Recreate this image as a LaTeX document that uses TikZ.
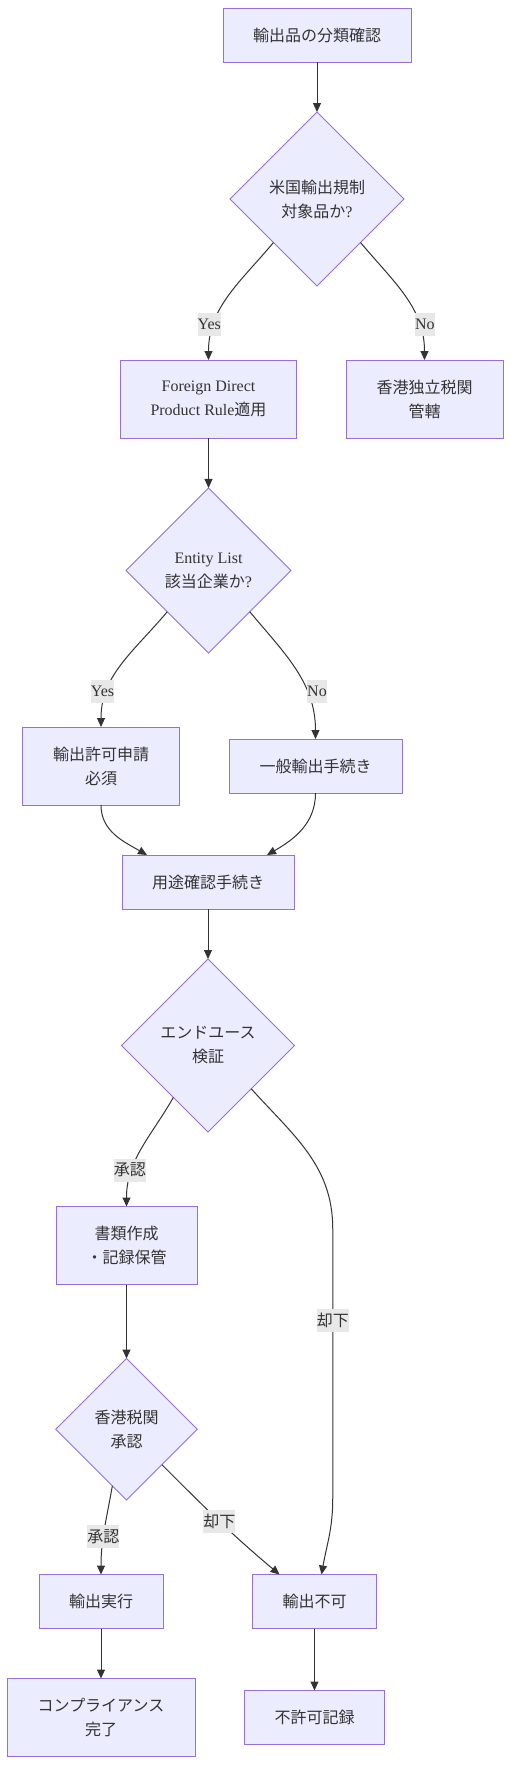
\documentclass[tikz,border=0pt]{standalone}
\usepackage{fontspec}
\setmainfont{Liberation Serif}
\newfontfamily\jpfont{Noto Sans CJK JP}
\newcommand{\jp}[1]{{\jpfont #1}}
\usepackage{xcolor}
\usepackage{tikz}
\usetikzlibrary{shapes.geometric,arrows.meta,positioning,calc}
\definecolor{flowfill}{HTML}{ECECFF}
\definecolor{flowline}{HTML}{9370DB}
\definecolor{wireline}{HTML}{333333}
\definecolor{lblbg}{HTML}{E8E8E8}

\begin{document}
\begin{tikzpicture}[
    font=\fontsize{16pt}{24pt}\selectfont,
    box/.style={draw=flowline,fill=flowfill,line width=1pt,inner sep=0pt,outer sep=0pt,align=center,minimum height=54pt,text=wireline},
    tallbox/.style={box,minimum height=78pt},
    ask/.style={diamond,aspect=1,draw=flowline,fill=flowfill,line width=1pt,inner sep=0pt,outer sep=0pt,align=center,text=wireline},
    arrow/.style={-{Triangle[length=9pt,width=8pt]},line width=1pt,draw=wireline},
    lbl/.style={fill=lblbg,inner sep=0pt,minimum height=23pt,text=wireline}
  ]
    \path[use as bounding box,fill=white] (0,0) rectangle (511pt,-1765pt);

    \node[box,minimum width=188pt] (cls) at (317pt,-35pt) {\jp{輸出品の分類確認}};
    \node[ask,minimum size=174pt,below=50pt of cls] (usq) {\jp{米国輸出規制}\\\jp{対象品か}?};
    \node[tallbox,minimum width=176pt,below=74pt of usq,xshift=-108.5pt] (fdpr) {Foreign Direct\\Product Rule\jp{適用}};
    \node[tallbox,minimum width=157pt,below=74pt of usq,xshift=107.5pt] (hkc) {\jp{香港独立税関}\\\jp{管轄}};

    \node[ask,minimum size=165pt,below=50pt of fdpr] (ent) {Entity List\\\jp{該当企業か}?};
    \node[tallbox,minimum width=157pt,below=74pt of ent,xshift=-107.5pt] (lic) {\jp{輸出許可申請}\\\jp{必須}};
    \node[box,minimum width=173pt,right=49.5pt of lic] (gen) {\jp{一般輸出手続き}};
    \node[box,minimum width=172pt,below=50pt of lic,xshift=107pt] (use) {\jp{用途確認手続き}};

    \node[ask,minimum size=173pt,below=50pt of use] (eu) {\jp{エンドユース}\\\jp{検証}};
    \node[tallbox,minimum width=141pt,below=74.5pt of eu,xshift=-81.5pt] (doc) {\jp{書類作成}\\\jp{・記録保管}};
    \node[ask,minimum size=141.5pt,below=74pt of doc] (hka) {\jp{香港税関}\\\jp{承認}};
    \node[box,minimum width=124pt,below=74.5pt of hka,xshift=-25.5pt] (exe) {\jp{輸出実行}};
    \node[box,minimum width=124pt,right=89.5pt of exe] (deny) {\jp{輸出不可}};
    \node[tallbox,minimum width=188pt,below=50pt of exe] (done) {\jp{コンプライアンス}\\\jp{完了}};
    \node[box,minimum width=140pt,below=62pt of deny] (rec) {\jp{不許可記録}};

    % US regulation branch
    \draw[arrow] (cls) -- (usq);
    \draw[arrow] (usq.south west) to[out=-130,in=90] node[lbl,pos=0.72,xshift=-6pt,yshift=-3pt] {Yes} (fdpr.north);
    \draw[arrow] (usq.south east) to[out=-50,in=90] node[lbl,pos=0.72,xshift=7pt,yshift=-3pt] {No} (hkc.north);
    \draw[arrow] (fdpr) -- (ent);

    % entity list
    \draw[arrow] (ent.south west) to[out=-130,in=90] node[lbl,pos=0.68,xshift=-7.5pt,yshift=-7pt] {Yes} (lic.north);
    \draw[arrow] (ent.south east) to[out=-50,in=90] node[lbl,pos=0.64,xshift=12pt,yshift=-4pt] {No} (gen.north);
    \draw[arrow] (lic.south) to[out=-90,in=150] ([xshift=-61pt]use.north);
    \draw[arrow] (gen.south) to[out=-90,in=30] ([xshift=59pt]use.north);
    \draw[arrow] (use) -- (eu);

    % end-use check and customs
    \draw[arrow] ($(eu.west)!0.6!(eu.south)$) to[out=-120,in=90] node[lbl,pos=0.7,xshift=-2.5pt] {\jp{承認}} (doc.north);
    \draw[arrow] (eu.south east) to[out=-48,in=90] ++(81.5pt,-140pt) -- node[lbl,pos=0.34] {\jp{却下}} ++(0,-270pt) to[out=-90,in=80] ([xshift=7pt]deny.north);
    \draw[arrow] (doc) -- (hka);
    \draw[arrow] ($(hka.west)!0.8!(hka.south)$) to[out=-100,in=90] node[lbl,pos=0.58] {\jp{承認}} (exe.north);
    \draw[arrow] (hka.south east) to[out=-45,in=140] node[lbl,pos=0.5] {\jp{却下}} ([xshift=-35pt]deny.north);
    \draw[arrow] (exe) -- (done);
    \draw[arrow] (deny) -- (rec);
  \end{tikzpicture}
\end{document}
